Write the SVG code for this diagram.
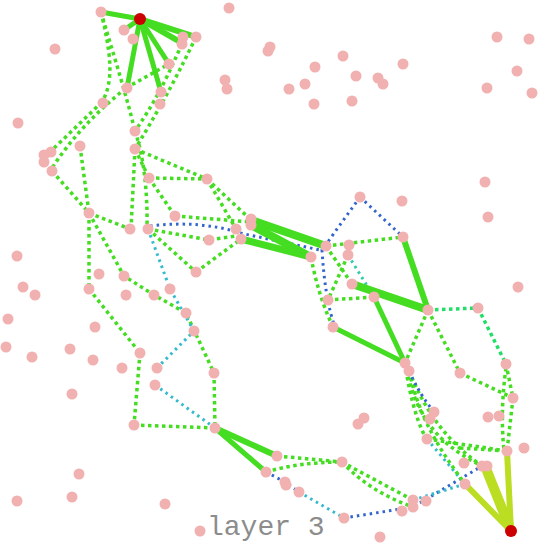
<svg xmlns="http://www.w3.org/2000/svg" width="539" height="545" viewBox="0 0 539 545">
<style>
.s{fill:none;stroke:#44dd22;stroke-linecap:butt}
.y{fill:none;stroke:#bbdd22}
.d{fill:none;stroke:#44dd22;stroke-width:3.5;stroke-dasharray:3.5 3.5}
.t{fill:none;stroke:#22dd66;stroke-width:3.5;stroke-dasharray:3.5 3.5}
.b{fill:none;stroke:#3366cc;stroke-width:3;stroke-dasharray:2.5 4}
.c{fill:none;stroke:#33bbcc;stroke-width:3;stroke-dasharray:2.5 4}
.q{fill:none;stroke:#33ccaa;stroke-width:3;stroke-dasharray:2.5 4}
.n{fill:#f2b1b1}
.r{fill:#cc0000}
text{font-family:"Liberation Mono",monospace;fill:#8c8c8c}
</style>
<g id="connectors">
<path class="d" d="M101,12 C112,50 125,90 135,131"/>
<path class="d" d="M101,12 C110,50 115,80 102,102"/>
<path class="d" d="M182,44 C170,70 160,95 135,131"/>
<path class="d" d="M196,37 C180,70 165,100 135,149"/>
<path class="d" d="M126,88 L169,64"/>
<path class="d" d="M102,102 L50,152"/>
<path class="d" d="M126,88 Q80,125 52,168"/>
<path class="d" d="M80,146 L89,213"/>
<path class="d" d="M52,171 L89,213"/>
<path class="d" d="M135,149 L131,229"/>
<path class="d" d="M135,131 Q148,170 147,229"/>
<path class="d" d="M135,149 L149,178"/>
<path class="d" d="M135,149 L207,179"/>
<path class="d" d="M149,178 L207,179"/>
<path class="d" d="M149,178 L175,216"/>
<path class="d" d="M175,216 L251,222"/>
<path class="d" d="M207,179 L251,220"/>
<path class="d" d="M207,179 L236,229"/>
<path class="d" d="M89,213 L130,229"/>
<path class="d" d="M89,213 L89,289"/>
<path class="d" d="M89,213 L124,276 L154,295 L186,313 L214,373"/>
<path class="d" d="M89,289 L140,353"/>
<path class="d" d="M140,353 L134,425"/>
<path class="d" d="M134,425 L215,428"/>
<path class="d" d="M214,373 L215,428"/>
<path class="d" d="M148,229 L209,240 L236,236"/>
<path class="d" d="M148,229 L196,272"/>
<path class="d" d="M196,272 L241,239"/>
<path class="d" d="M326,246 L403,237"/>
<path class="d" d="M311,257 Q318,295 333,327"/>
<path class="d" d="M328,300 L374,297"/>
<path class="d" d="M326,246 L352,284"/>
<path class="d" d="M348,255 L328,300"/>
<path class="q" d="M348,255 L374,297"/>
<path class="b" d="M360,197 L322,250 Q325,300 335,327"/>
<path class="b" d="M360,197 L403,237"/>
<path class="b" d="M150,226 Q200,220 240,233 L320,250"/>
<path class="c" d="M148,229 L170,289 L194,331 L157,368"/>
<path class="c" d="M155,385 L215,428"/>
<path class="d" d="M277,456 L342,462"/>
<path class="d" d="M266,472 Q300,462 342,462"/>
<path class="d" d="M342,462 Q375,480 413,500"/>
<path class="d" d="M342,462 Q370,492 413,507"/>
<path class="b" d="M266,472 L285,482 L299,492"/>
<path class="c" d="M299,492 L344,518"/>
<path class="b" d="M344,518 L413,507 L482,466"/>
<path class="c" d="M427,439 L465,484"/>
<path class="c" d="M413,500 L465,484"/>
<path class="t" d="M428,310 L478,308"/>
<path class="t" d="M478,308 L506,364"/>
<path class="d" d="M428,310 L460,373"/>
<path class="d" d="M460,373 L513,398"/>
<path class="d" d="M513,398 L507,451"/>
<path class="d" d="M506,364 L513,398"/>
<path class="d" d="M506,368 Q500,410 504,451"/>
<path class="d" d="M428,310 L405,363"/>
<path class="d" d="M405,363 C415,410 430,440 482,466"/>
<path class="d" d="M409,371 C420,420 440,450 465,484"/>
<path class="d" d="M409,371 C425,410 445,440 482,466"/>
<path class="d" d="M405,363 C410,400 420,430 427,439"/>
<path class="d" d="M427,439 L507,451"/>
<path class="d" d="M460,448 L507,451"/>
<path class="b" d="M409,371 Q420,395 434,412"/>
<path class="s" stroke-width="5" d="M140,19 L101,12"/>
<path class="s" stroke-width="6" d="M140,19 L196,37"/>
<path class="s" stroke-width="6" d="M140,19 L182,43"/>
<path class="s" stroke-width="5" d="M140,19 L124,30"/>
<path class="s" stroke-width="5" d="M140,19 L127,88"/>
<path class="s" stroke-width="5" d="M140,19 L161,92"/>
<path class="s" stroke-width="5" d="M140,19 L169,64"/>
<path class="s" stroke-width="8" d="M251,220 L326,246"/>
<path class="s" stroke-width="8" d="M251,225 L311,257"/>
<path class="s" stroke-width="7" d="M241,239 L311,257"/>
<path class="s" stroke-width="6" d="M403,237 L428,310"/>
<path class="s" stroke-width="8" d="M352,284 L428,310"/>
<path class="s" stroke-width="5" d="M374,297 L405,363"/>
<path class="s" stroke-width="5" d="M333,327 L405,363"/>
<path class="s" stroke-width="6" d="M215,428 L277,456"/>
<path class="s" stroke-width="5" d="M215,428 L266,472"/>
<path class="y" stroke-width="6" d="M511,531 L507,451"/>
<path class="y" stroke-width="10" d="M511,531 L485,466"/>
<path class="y" stroke-width="6" d="M511,531 L465,484"/>
</g>
<g id="nodes">
<g id="n1"><circle class="n" cx="101" cy="12" r="5.5"/></g>
<g id="n2"><circle class="n" cx="124" cy="30" r="5.5"/></g>
<g id="n3"><circle class="n" cx="133" cy="39" r="5.5"/></g>
<g id="n4"><circle class="n" cx="183" cy="37" r="5.5"/></g>
<g id="n5"><circle class="n" cx="196" cy="37" r="5.5"/></g>
<g id="n6"><circle class="n" cx="182" cy="44" r="5.5"/></g>
<g id="n7"><circle class="n" cx="55" cy="49" r="5.5"/></g>
<g id="n8"><circle class="n" cx="229" cy="8" r="5.5"/></g>
<g id="n9"><circle class="n" cx="169" cy="64" r="5.5"/></g>
<g id="n10"><circle class="n" cx="127" cy="88" r="5.5"/></g>
<g id="n11"><circle class="n" cx="161" cy="92" r="5.5"/></g>
<g id="n12"><circle class="n" cx="160" cy="104" r="5.5"/></g>
<g id="n13"><circle class="n" cx="103" cy="103" r="5.5"/></g>
<g id="n14"><circle class="n" cx="135" cy="131" r="5.5"/></g>
<g id="n15"><circle class="n" cx="135" cy="149" r="5.5"/></g>
<g id="n16"><circle class="n" cx="80" cy="146" r="5.5"/></g>
<g id="n17"><circle class="n" cx="44" cy="155" r="5.5"/></g>
<g id="n18"><circle class="n" cx="51" cy="152" r="5.5"/></g>
<g id="n19"><circle class="n" cx="44" cy="162" r="5.5"/></g>
<g id="n20"><circle class="n" cx="52" cy="171" r="5.5"/></g>
<g id="n21"><circle class="n" cx="149" cy="178" r="5.5"/></g>
<g id="n22"><circle class="n" cx="207" cy="179" r="5.5"/></g>
<g id="n23"><circle class="n" cx="18" cy="123" r="5.5"/></g>
<g id="n24"><circle class="n" cx="270" cy="47" r="5.5"/></g>
<g id="n25"><circle class="n" cx="268" cy="51" r="5.5"/></g>
<g id="n26"><circle class="n" cx="225" cy="80" r="5.5"/></g>
<g id="n27"><circle class="n" cx="227" cy="89" r="5.5"/></g>
<g id="n28"><circle class="n" cx="497" cy="37" r="5.5"/></g>
<g id="n29"><circle class="n" cx="529" cy="39" r="5.5"/></g>
<g id="n30"><circle class="n" cx="517" cy="71" r="5.5"/></g>
<g id="n31"><circle class="n" cx="487" cy="88" r="5.5"/></g>
<g id="n32"><circle class="n" cx="532" cy="93" r="5.5"/></g>
<g id="n33"><circle class="n" cx="403" cy="64" r="5.5"/></g>
<g id="n34"><circle class="n" cx="343" cy="56" r="5.5"/></g>
<g id="n35"><circle class="n" cx="315" cy="67" r="5.5"/></g>
<g id="n36"><circle class="n" cx="356" cy="76" r="5.5"/></g>
<g id="n37"><circle class="n" cx="378" cy="78" r="5.5"/></g>
<g id="n38"><circle class="n" cx="383" cy="84" r="5.5"/></g>
<g id="n39"><circle class="n" cx="305" cy="84" r="5.5"/></g>
<g id="n40"><circle class="n" cx="289" cy="89" r="5.5"/></g>
<g id="n41"><circle class="n" cx="314" cy="104" r="5.5"/></g>
<g id="n42"><circle class="n" cx="352" cy="101" r="5.5"/></g>
<g id="n43"><circle class="n" cx="485" cy="182" r="5.5"/></g>
<g id="n44"><circle class="n" cx="89" cy="213" r="5.5"/></g>
<g id="n45"><circle class="n" cx="130" cy="229" r="5.5"/></g>
<g id="n46"><circle class="n" cx="148" cy="229" r="5.5"/></g>
<g id="n47"><circle class="n" cx="175" cy="216" r="5.5"/></g>
<g id="n48"><circle class="n" cx="209" cy="240" r="5.5"/></g>
<g id="n49"><circle class="n" cx="196" cy="272" r="5.5"/></g>
<g id="n50"><circle class="n" cx="251" cy="219" r="5.5"/></g>
<g id="n51"><circle class="n" cx="251" cy="225" r="5.5"/></g>
<g id="n52"><circle class="n" cx="236" cy="229" r="5.5"/></g>
<g id="n53"><circle class="n" cx="241" cy="239" r="5.5"/></g>
<g id="n54"><circle class="n" cx="17" cy="256" r="5.5"/></g>
<g id="n55"><circle class="n" cx="99" cy="274" r="5.5"/></g>
<g id="n56"><circle class="n" cx="124" cy="276" r="5.5"/></g>
<g id="n57"><circle class="n" cx="89" cy="289" r="5.5"/></g>
<g id="n58"><circle class="n" cx="23" cy="287" r="5.5"/></g>
<g id="n59"><circle class="n" cx="35" cy="295" r="5.5"/></g>
<g id="n60"><circle class="n" cx="126" cy="295" r="5.5"/></g>
<g id="n61"><circle class="n" cx="154" cy="295" r="5.5"/></g>
<g id="n62"><circle class="n" cx="170" cy="289" r="5.5"/></g>
<g id="n63"><circle class="n" cx="186" cy="313" r="5.5"/></g>
<g id="n64"><circle class="n" cx="194" cy="331" r="5.5"/></g>
<g id="n65"><circle class="n" cx="8" cy="319" r="5.5"/></g>
<g id="n66"><circle class="n" cx="95" cy="327" r="5.5"/></g>
<g id="n67"><circle class="n" cx="6" cy="347" r="5.5"/></g>
<g id="n68"><circle class="n" cx="70" cy="349" r="5.5"/></g>
<g id="n69"><circle class="n" cx="32" cy="357" r="5.5"/></g>
<g id="n70"><circle class="n" cx="93" cy="360" r="5.5"/></g>
<g id="n71"><circle class="n" cx="140" cy="353" r="5.5"/></g>
<g id="n72"><circle class="n" cx="360" cy="197" r="5.5"/></g>
<g id="n73"><circle class="n" cx="402" cy="201" r="5.5"/></g>
<g id="n74"><circle class="n" cx="488" cy="217" r="5.5"/></g>
<g id="n75"><circle class="n" cx="403" cy="237" r="5.5"/></g>
<g id="n76"><circle class="n" cx="326" cy="246" r="5.5"/></g>
<g id="n77"><circle class="n" cx="349" cy="245" r="5.5"/></g>
<g id="n78"><circle class="n" cx="348" cy="255" r="5.5"/></g>
<g id="n79"><circle class="n" cx="311" cy="257" r="5.5"/></g>
<g id="n80"><circle class="n" cx="352" cy="284" r="5.5"/></g>
<g id="n81"><circle class="n" cx="374" cy="297" r="5.5"/></g>
<g id="n82"><circle class="n" cx="328" cy="300" r="5.5"/></g>
<g id="n83"><circle class="n" cx="428" cy="310" r="5.5"/></g>
<g id="n84"><circle class="n" cx="478" cy="308" r="5.5"/></g>
<g id="n85"><circle class="n" cx="518" cy="287" r="5.5"/></g>
<g id="n86"><circle class="n" cx="333" cy="327" r="5.5"/></g>
<g id="n87"><circle class="n" cx="122" cy="368" r="5.5"/></g>
<g id="n88"><circle class="n" cx="157" cy="368" r="5.5"/></g>
<g id="n89"><circle class="n" cx="214" cy="373" r="5.5"/></g>
<g id="n90"><circle class="n" cx="155" cy="385" r="5.5"/></g>
<g id="n91"><circle class="n" cx="72" cy="394" r="5.5"/></g>
<g id="n92"><circle class="n" cx="134" cy="425" r="5.5"/></g>
<g id="n93"><circle class="n" cx="215" cy="428" r="5.5"/></g>
<g id="n94"><circle class="n" cx="266" cy="472" r="5.5"/></g>
<g id="n95"><circle class="n" cx="79" cy="474" r="5.5"/></g>
<g id="n96"><circle class="n" cx="72" cy="497" r="5.5"/></g>
<g id="n97"><circle class="n" cx="17" cy="501" r="5.5"/></g>
<g id="n98"><circle class="n" cx="165" cy="504" r="5.5"/></g>
<g id="n99"><circle class="n" cx="200" cy="531" r="5.5"/></g>
<g id="n100"><circle class="n" cx="405" cy="363" r="5.5"/></g>
<g id="n101"><circle class="n" cx="409" cy="371" r="5.5"/></g>
<g id="n102"><circle class="n" cx="506" cy="364" r="5.5"/></g>
<g id="n103"><circle class="n" cx="460" cy="373" r="5.5"/></g>
<g id="n104"><circle class="n" cx="513" cy="398" r="5.5"/></g>
<g id="n105"><circle class="n" cx="364" cy="418" r="5.5"/></g>
<g id="n106"><circle class="n" cx="358" cy="424" r="5.5"/></g>
<g id="n107"><circle class="n" cx="434" cy="412" r="5.5"/></g>
<g id="n108"><circle class="n" cx="430" cy="419" r="5.5"/></g>
<g id="n109"><circle class="n" cx="488" cy="417" r="5.5"/></g>
<g id="n110"><circle class="n" cx="499" cy="416" r="5.5"/></g>
<g id="n111"><circle class="n" cx="427" cy="439" r="5.5"/></g>
<g id="n112"><circle class="n" cx="507" cy="451" r="5.5"/></g>
<g id="n113"><circle class="n" cx="524" cy="448" r="5.5"/></g>
<g id="n114"><circle class="n" cx="277" cy="456" r="5.5"/></g>
<g id="n115"><circle class="n" cx="342" cy="462" r="5.5"/></g>
<g id="n116"><circle class="n" cx="464" cy="463" r="5.5"/></g>
<g id="n117"><circle class="n" cx="482" cy="466" r="5.5"/></g>
<g id="n118"><circle class="n" cx="487" cy="466" r="5.5"/></g>
<g id="n119"><circle class="n" cx="285" cy="482" r="5.5"/></g>
<g id="n120"><circle class="n" cx="286" cy="485" r="5.5"/></g>
<g id="n121"><circle class="n" cx="299" cy="492" r="5.5"/></g>
<g id="n122"><circle class="n" cx="465" cy="484" r="5.5"/></g>
<g id="n123"><circle class="n" cx="413" cy="500" r="5.5"/></g>
<g id="n124"><circle class="n" cx="426" cy="501" r="5.5"/></g>
<g id="n125"><circle class="n" cx="413" cy="507" r="5.5"/></g>
<g id="n126"><circle class="n" cx="402" cy="511" r="5.5"/></g>
<g id="n127"><circle class="n" cx="344" cy="518" r="5.5"/></g>
<g id="n128"><circle class="n" cx="380" cy="537" r="5.5"/></g>
<g id="src1"><circle class="r" cx="140" cy="19" r="6"/></g>
<g id="src2"><circle class="r" cx="511" cy="531" r="6"/></g>
</g>
<text x="207" y="535" font-size="28">layer 3</text>
</svg>
